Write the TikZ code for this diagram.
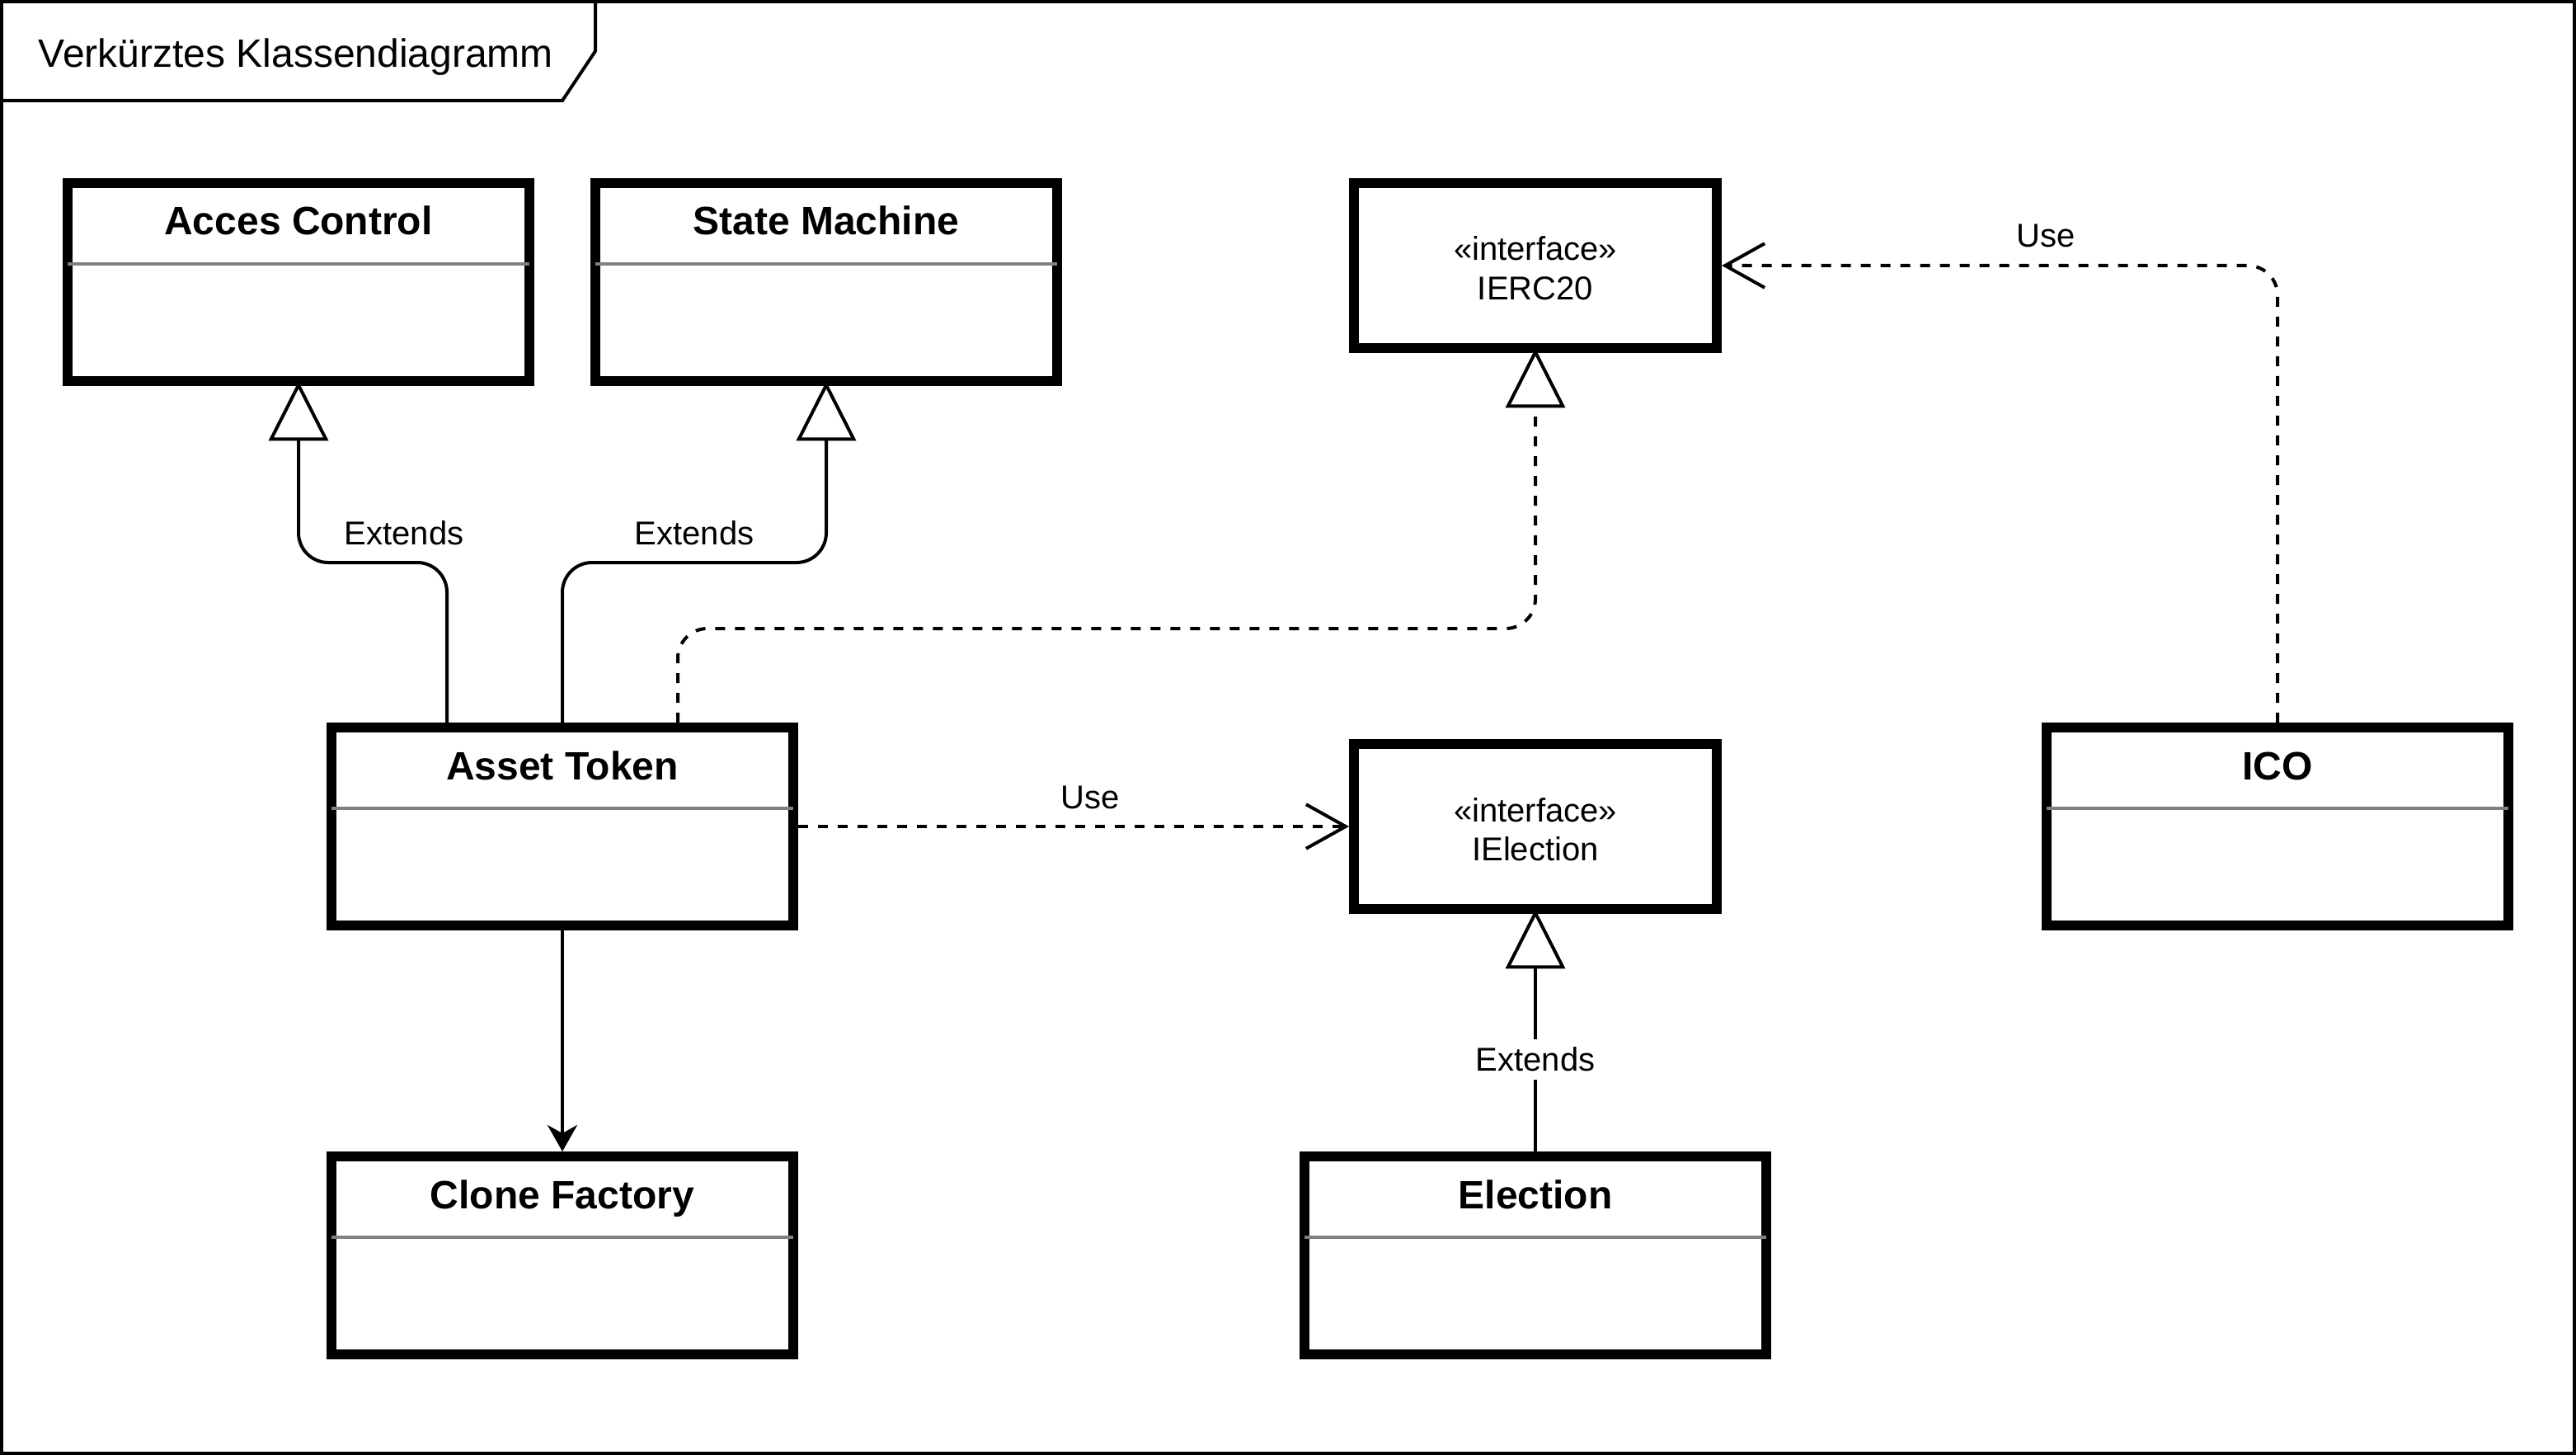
\documentclass[tikz,border=0pt]{standalone}
\usepackage{fontspec}
\setmainfont{Liberation Sans}
\usetikzlibrary{arrows.meta}
\definecolor{sepgray}{RGB}{128,128,128}
\tikzset{
  classbox/.style={draw=black, line width=3pt, fill=white, minimum width=140pt, minimum height=60pt, inner sep=0pt},
  ifacebox/.style={classbox, minimum width=110pt, minimum height=50pt},
  classname/.style={font=\fontsize{12pt}{14.4pt}\selectfont\bfseries, anchor=base, inner sep=0pt},
  ifacetext/.style={font=\fontsize{10pt}{12pt}\selectfont, anchor=base, inner sep=0pt},
  titletext/.style={font=\fontsize{12pt}{14.4pt}\selectfont, anchor=base, inner sep=0pt},
  lbl/.style={font=\fontsize{10pt}{12pt}\selectfont, inner sep=0pt},
  sepline/.style={draw=sepgray, line width=1pt},
  conn/.style={draw=black, line width=1pt},
  dashedconn/.style={conn, dash pattern=on 3pt off 3pt},
  gentip/.style={-{Triangle[length=18pt, width=18pt, fill=white]}, shorten >=-1.4pt},
  usetip/.style={-{Straight Barb[length=12pt, width=13.4pt]}},
  assoctip/.style={-{Stealth[length=8pt, width=9pt, inset=2.5pt]}},
  framestyle/.style={draw=black, line width=1pt}
}
\begin{document}
\begin{tikzpicture}[x=1pt, y=-1pt]
\useasboundingbox (-0.5,-0.5) rectangle (780.5,440.5);
% frame
\draw[framestyle] (0,0) rectangle (780,440);
\draw[framestyle] (0,30) -- (170,30) -- (180,15) -- (180,0);
\node[titletext] (title) at (89.2,19.9) {Verkürztes Klassendiagramm};

% classes
\node[classbox] (acc) at (90,85) {};
\node[classname] (acc-t) at (90,70.75) {Acces Control};
\draw[sepline] (20,79.4) -- (160,79.4);

\node[classbox] (sm) at (250,85) {};
\node[classname] (sm-t) at (250,70.75) {State Machine};
\draw[sepline] (180,79.4) -- (320,79.4);

\node[ifacebox] (ierc) at (465,80) {};
\node[ifacetext] (ierc-s) at (465,78.5) {«interface»};
\node[ifacetext] (ierc-n) at (465,90.3) {IERC20};

\node[classbox] (at) at (170,250) {};
\node[classname] (at-t) at (170,235.75) {Asset Token};
\draw[sepline] (100,244.4) -- (240,244.4);

\node[ifacebox] (ielec) at (465,250) {};
\node[ifacetext] (ielec-s) at (465,248.5) {«interface»};
\node[ifacetext] (ielec-n) at (465,260.3) {IElection};

\node[classbox] (ico) at (690,250) {};
\node[classname] (ico-t) at (690,235.75) {ICO};
\draw[sepline] (620,244.4) -- (760,244.4);

\node[classbox] (cf) at (170,380) {};
\node[classname] (cf-t) at (170,365.75) {Clone Factory};
\draw[sepline] (100,374.4) -- (240,374.4);

\node[classbox] (el) at (465,380) {};
\node[classname] (el-t) at (465,365.75) {Election};
\draw[sepline] (395,374.4) -- (535,374.4);

% bend levels
\coordinate (b1) at (0,170);
\coordinate (b2) at (0,190);

% connectors
\draw[conn, gentip] ([xshift=-35pt]at.north) [rounded corners=9pt] |- (b1 -| acc.south) [sharp corners] -- (acc.south);
\node[lbl, anchor=base] (l1) at (122,164.5) {Extends};

\draw[conn, gentip] (at.north) [rounded corners=9pt] |- (b1 -| sm.south) [sharp corners] -- (sm.south);
\node[lbl, anchor=base] (l2) at (210,164.5) {Extends};

\draw[dashedconn, gentip] ([xshift=35pt]at.north) [rounded corners=9pt] |- (b2 -| ierc.south) [sharp corners] -- (ierc.south);

\draw[dashedconn, usetip] (ico.north) [rounded corners=9pt] |- (ierc.east);
\node[lbl, anchor=base] (l4) at (619.7,74.4) {Use};

\draw[dashedconn, usetip] (at.east) -- (ielec.west);
\node[lbl, anchor=base] (l5) at (330,244.7) {Use};

\draw[conn, assoctip] (at.south) -- (cf.north);

\draw[conn, gentip] (el.north) -- node[lbl, fill=white, inner xsep=1pt, inner ysep=2.4pt, pos=0.387] (l7) {Extends} (ielec.south);
\end{tikzpicture}
\end{document}
